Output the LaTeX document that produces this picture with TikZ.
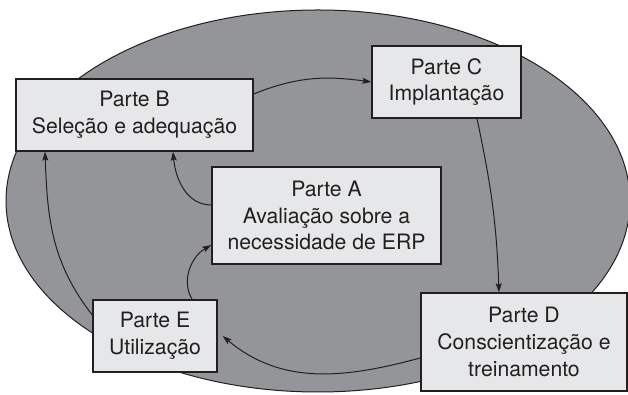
\documentclass[tikz,border=0pt]{standalone}
\usepackage{fontspec}
\setmainfont{TeX Gyre Heros}
\usetikzlibrary{arrows.meta}

\definecolor{ovalgray}{RGB}{147,149,152}
\definecolor{boxgray}{RGB}{230,231,232}
\definecolor{inkgray}{RGB}{35,31,32}

\begin{document}
\begin{tikzpicture}[x=0.5pt,y=0.5pt]
    \tikzset{
        part/.style={draw=inkgray, line width=0.7pt, fill=boxgray, align=center, inner sep=0pt,
            text=inkgray, font=\fontsize{10.6}{13.4}\selectfont},
        flow/.style={draw=inkgray, line width=0.5pt, -{Stealth[length=4.5pt,width=3pt,inset=0.8pt]}}
    }
    \useasboundingbox (0,0) rectangle (628,395);
    \draw[fill=ovalgray, draw=inkgray, line width=0.5pt] (318,194) ellipse [x radius=156pt, y radius=95.5pt];

    \node[part, minimum width=118.5pt, minimum height=36pt] (B) at (134.5,280) {Parte B\\Seleção e adequação};
    \node[part, minimum width=74.5pt, minimum height=36pt] (C) at (446.5,313) {Parte C\\Implantação};
    \node[part, minimum width=114.5pt, minimum height=48.5pt] (A) at (326.5,179.5) {Parte A\\Avaliação sobre a\\necessidade de ERP};
    \node[part, minimum width=62pt, minimum height=36pt] (E) at (155,59) {Parte E\\Utilização};
    \node[part, minimum width=103pt, minimum height=49pt] (D) at (524,53) {Parte D\\Conscientização e\\treinamento};

    \draw[flow] ([yshift=10.5pt]B.east) to[out=22, in=172] (C.west);
    \draw[flow] ([xshift=15.25pt]C.south) to[out=-78, in=92] ([xshift=-12.5pt]D.north);
    \draw[flow] ([yshift=-8pt]D.west) to[out=195, in=-40] ([xshift=2.5pt]E.east);
    \draw[flow] ([xshift=18.5pt]E.north) to[out=120, in=210] ([yshift=-14.75pt]A.west);
    \draw[flow] ([yshift=5.25pt]A.west) to[out=180, in=-85] ([xshift=19.25pt]B.south);
    \draw[flow] ([yshift=10.5pt]E.west) to[out=128, in=-88] ([xshift=-44.75pt]B.south);
\end{tikzpicture}
\end{document}
